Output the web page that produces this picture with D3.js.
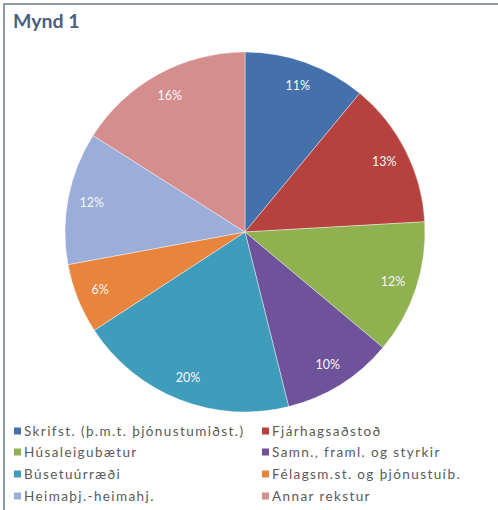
<!DOCTYPE html>
<html>
<head>
<meta charset="utf-8">
<script src="https://cdn.jsdelivr.net/npm/d3@7"></script>
<style>
  html, body { margin: 0; padding: 0; background: #fff; }
  svg { display: block; }
</style>
</head>
<body>
<svg id="chart" width="498" height="510"></svg>
<script>
const title = "Mynd 1";
const categories = [
  "Skrifst. (þ.m.t. þjónustumiðst.)",
  "Fjárhagsaðstoð",
  "Húsaleigubætur",
  "Samn., framl. og styrkir",
  "Búsetuúrræði",
  "Félagsm.st. og þjónustuíb.",
  "Heimaþj.-heimahj.",
  "Annar rekstur"
];
const values = [11.0, 13.1, 12.0, 10.0, 19.7, 6.3, 11.9, 16.0];
const colors = ["#4471AC", "#B5423F", "#8FB150", "#6E539B", "#3F9CBA", "#E8843C", "#9BAED9", "#D38E8D"];

const svg = d3.select("#chart");

// frame
svg.append("path")
  .attr("d", "M4,510 L4,4 L498,4")
  .attr("fill", "none")
  .attr("stroke", "#8d9cab")
  .attr("stroke-width", 2);

svg.append("text")
  .attr("x", 13).attr("y", 28)
  .attr("font-family", "Lato, 'Open Sans', sans-serif")
  .attr("font-weight", "bold")
  .attr("font-size", 19.5)
  .attr("fill", "#4d6080")
  .text(title);

const cx = 245, cy = 232, r = 180;
const total = d3.sum(values);
const pie = d3.pie().sort(null).value(d => d)(values);
const arc = d3.arc().innerRadius(0).outerRadius(r);
const labelArc = d3.arc().innerRadius(156).outerRadius(156);

const g = svg.append("g").attr("transform", `translate(${cx},${cy})`);
g.selectAll("path.slice").data(pie).join("path")
  .attr("class", "slice")
  .attr("d", arc)
  .attr("fill", (d, i) => colors[i])
  .attr("stroke", "#ffffff")
  .attr("stroke-opacity", 0.5)
  .attr("stroke-width", 0.8);

g.selectAll("text.lbl").data(pie).join("text")
  .attr("class", "lbl")
  .attr("transform", d => `translate(${labelArc.centroid(d)})`)
  .attr("text-anchor", "middle")
  .attr("dominant-baseline", "central")
  .attr("font-family", "Lato, 'Open Sans', sans-serif")
  .attr("font-size", 12.5)
  .attr("fill", "#f6f6f6")
  .text(d => Math.round(d.value / total * 100) + "%");

// legend
const colX = [14, 262];
const rowY = [431, 452, 474, 496];
const leg = svg.append("g");
categories.forEach((c, i) => {
  const x = colX[i % 2], y = rowY[Math.floor(i / 2)];
  leg.append("rect").attr("x", x).attr("y", y - 3.5).attr("width", 7).attr("height", 7).attr("fill", colors[i]);
  leg.append("text")
    .attr("x", x + 10).attr("y", y)
    .attr("dominant-baseline", "central")
    .attr("font-family", "Lato, 'Open Sans', sans-serif")
    .attr("font-size", 13.5)
    .attr("letter-spacing", 1.4)
    .attr("fill", "#5a5a5a")
    .text(c);
});
</script>
</body>
</html>
